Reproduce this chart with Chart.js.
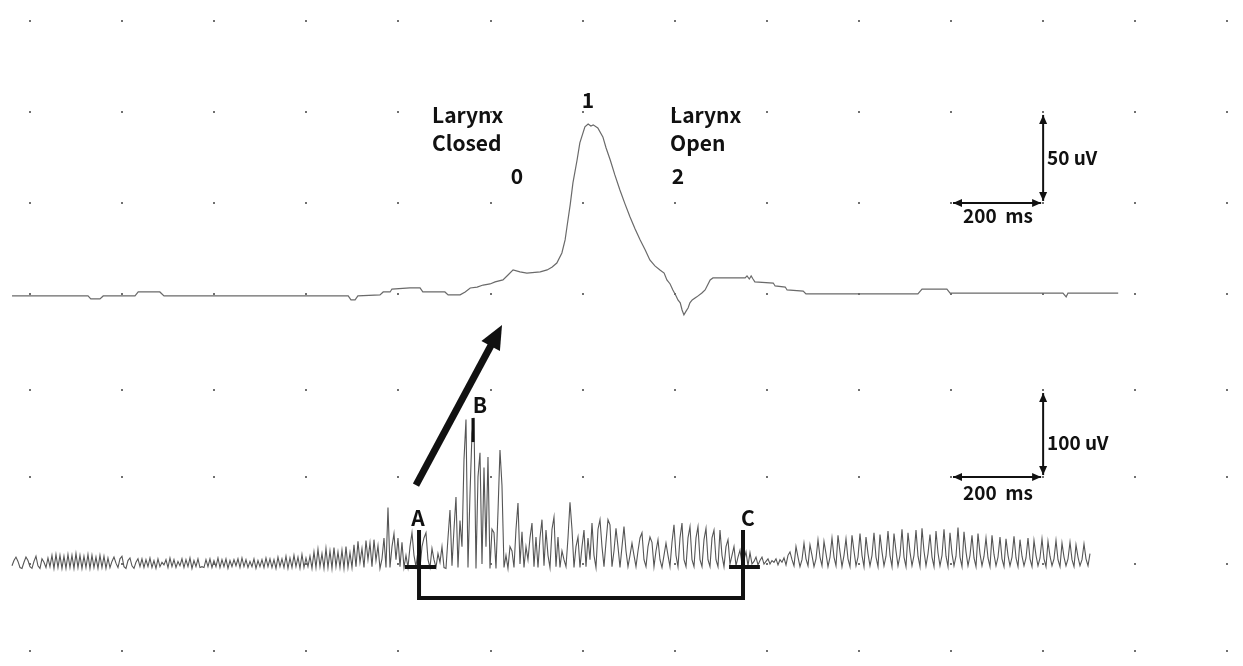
<!DOCTYPE html>
<html><head><meta charset="utf-8">
<script src="https://cdn.jsdelivr.net/npm/chart.js@4.4.1/dist/chart.umd.min.js"></script>
<style>html,body{margin:0;padding:0;background:#fff}#wrap{width:1243px;height:666px;position:relative}</style>
</head><body><div id="wrap"><canvas id="c"></canvas></div>
<script>
// ---- Upper trace (larynx movement sensor): time in ms, amplitude in uV ----
const topTimes = [-39,126,132,152,159,228,235,282,291,691,697,706,712,760,767,782,786,825,847,853,901,908,934,945,956,971,984,999,1010,1027,1038,1049,1064,1079,1108,1123,1134,1144,1155,1162,1166,1173,1179,1188,1194,1205,1212,1218,1223,1233,1244,1251,1260,1270,1281,1292,1303,1314,1325,1336,1346,1357,1368,1377,1383,1390,1396,1403,1407,1412,1416,1420,1425,1429,1433,1438,1448,1459,1466,1477,1483,1553,1557,1562,1566,1570,1574,1614,1618,1640,1644,1679,1685,1928,1937,1991,1998,2243,2250,2254,2363];
const topValues = [-1.1,-1.1,-2.7,-2.7,-1.1,-1.1,1.1,1.1,-1.1,-1.1,-3.3,-3.3,-1.1,-0.5,1.1,1.1,2.7,3.3,3.3,1.1,1.1,-0.5,-0.5,1.1,3.3,3.8,4.9,5.5,6.6,7.7,10.4,13.2,12.1,11.5,12.1,13.2,14.8,17.0,22.5,29.7,36.8,48.9,61.0,73.6,83.0,91.8,93.4,92.3,92.9,91.2,86.3,80.2,73.6,65.4,57.1,49.5,42.3,35.7,29.7,24.2,18.7,15.4,13.2,11.5,7.7,5.5,2.2,-1.1,-3.3,-4.9,-8.8,-11.5,-9.3,-7.7,-4.9,-3.3,-1.6,0.5,2.2,7.7,8.8,8.8,9.9,8.2,9.9,8.2,6.6,6.0,4.4,3.8,2.2,1.6,0,0,2.7,2.7,0.5,0.5,-1.6,0.5,0.5];

// ---- Lower trace (submental EMG), uniformly sampled: uV ----
const emgStartMs = -39.1;
const emgStepMs = 4.343;
const emgPart1 = [-2,4,8,3,-4,-5,2,8,4,-3,-5,3,9,-2,-5,6,2,-4,7,-3];
const emgPart2 = [10,-5,11,-4,10,-5,9,-5,11,-4,10,-5,12,-4,10,-5,9,-4,11,-5,10,-4,8,-5,10,-4,9,-5,7,-4];
const emgPart3 = [3,8,1,-4,6,9,-3,-5,4,7,-2,-5,2,6,-3];
const emgPart4 = [6,-4,5,-3,7,-4,4,-5,6,-3,2,-1,5,-4,7,-3,5,-4,3,-2,6,-4,5,-3,7,-5,4,-3,6,-4,-3,-4,5,-3,6,-4,4,-3,7,-4,5,-3,6,-5,4,-3,5,-2,6,-4,7,-3,5,-4,3,-3,6,-5,4,-3,5,-4,7,-3,6,-4,5,-5,8,-3,6,-4,9,-5,7,-4,10,-3,8,-5,11,-4,7,-3,9];
const emgPart5 = [-5,14,-4,17,-3,12,-5,18,-4,15,-5,19,-3,14,-4,16,-5,20,-4,13];
const emgPart6 = [-4,22,-3,26,2,18,-4,27,5,24,-3,28,4,21,-5,6,30,-4];
const emgPart7 = [65,-4,20,35,5,30,-3,25,-4];
const emgPart8 = [10,-4,20,36,10,-3,15,-4,20,30,36,5,-4,18,5,-4,12,2,20,-4,-5,30,62,-2,40,77,-4,50,20,120,166,-4,80,150,168,-5,100,128,0,111,20,123,-5,40,36,-5,60,131,90,-4,10,-5,20,15,-4,40,70,0,37,-4,20,5,30,47,-3,31,-4,30,51,-2,39,10,-4,40,54,-3,31,-4,15,5,-3,30,71,40,-4,20,31,-4,20,39,-3,30,5,47,10,-4,40];
const emgPart9 = [51,20,-3,25,51,45,-3,15,41,20,-4,20,43,15,-3,10,24,10,-3,15,30,36,5,-3,20,31,25,-3,15,28,5,-4,10,24,10,-3,25,45,10,-3,30,47,5,-3,30,43,5,-3,30,43,5,-3,28,41,5,-3,30,39,5,-3,39,10,-3,20,28,0,10,20,-2,8,16,0,5,14,-2,13,0,3,8,-1,4,8,0,3,6,0,4,2,6,-1,5,2,7,-1,10];
const emgPart10 = [14,5,-2,20,8,-3,5,24,6,-2,22,10,-3,6,28,8,-2,26,12,-3,8,30,8,-2,33,14,-3,10,29,6,-3,33,15,-2,8,35,10,-3,31,12,-2,10,36,8,-3,34,14,-2,9,38,10,-3,35,15,-2,10,40,8,-3,36,14,-2,10,39,9,-3,41,15,-2,12,34,8,-3,38,13,-2,10,40,9,-3,36,12,-2,9,42,8,-3,37,14,-2,10,33,7,-3,35,12,-2,9,30,7,-3,33,11,-2,8,31,6,-3,29,10,-2,8,32,7,-3,28,9,-2,7,30,6,-3,27,10,-2,7,29,6,-3,26,9,-2,6,27,5,-3,24,8,-2,6,25,5,-3,22,8,-2,5,23,6,-2,12];

// ---- Grid (dots every 200 ms; 50 uV upper / 100 uV lower) ----
const gridTimesMs = [0,200,400,600,800,1000,1200,1400,1600,1800,2000,2200,2400,2600];
const topGridUv = [0,50,100,150];
const bottomGridUv = [-100,0,100,200];

const emgValues = [].concat(emgPart1,emgPart2,emgPart3,emgPart4,emgPart5,emgPart6,emgPart7,emgPart8,emgPart9,emgPart10);
const topData = topTimes.map((t,i)=>({x:t,y:topValues[i]}));
const emgData = emgValues.map((v,i)=>({x:emgStartMs+i*emgStepMs,y:v}));

const FONT = '"Noto Sans CJK KR","Noto Sans",sans-serif';

function head(ctx,x1,y1,x2,y2,len,w){
  const a=Math.atan2(y2-y1,x2-x1), c=Math.cos(a), s=Math.sin(a);
  ctx.beginPath();
  ctx.moveTo(x2,y2);
  ctx.lineTo(x2-len*c+w/2*s, y2-len*s-w/2*c);
  ctx.lineTo(x2-len*c-w/2*s, y2-len*s+w/2*c);
  ctx.closePath(); ctx.fill();
}
function dblArrow(ctx,x1,y1,x2,y2){
  ctx.lineWidth=2;
  ctx.beginPath(); ctx.moveTo(x1,y1); ctx.lineTo(x2,y2); ctx.stroke();
  head(ctx,x2,y2,x1,y1,9,8);
  head(ctx,x1,y1,x2,y2,9,8);
}

const overlay = {
  id:'overlay',
  beforeDatasetsDraw(chart){
    const {ctx,scales}=chart; const xs=scales.x;
    ctx.save(); ctx.fillStyle='#707070';
    gridTimesMs.forEach(t=>{
      const px=Math.round(xs.getPixelForValue(t));
      topGridUv.forEach(v=>{const py=Math.round(scales.yTop.getPixelForValue(v)); ctx.fillRect(px-1,py-1,2,2);});
      bottomGridUv.forEach(v=>{const py=Math.round(scales.yBot.getPixelForValue(v)); ctx.fillRect(px-1,py-1,2,2);});
    });
    ctx.restore();
  },
  afterDatasetsDraw(chart){
    const {ctx,scales}=chart; const xs=scales.x;
    const P=(t,v,ax)=>({x:xs.getPixelForValue(t),y:scales[ax].getPixelForValue(v)});
    ctx.save();
    ctx.fillStyle='#111'; ctx.strokeStyle='#111';
    ctx.font='bold 21px '+FONT; ctx.textBaseline='middle';
    const txt=(s,t,v,ax,al)=>{const p=P(t,v,ax); ctx.textAlign=al; ctx.fillText(s,p.x,p.y);};
    txt('Larynx',873,98.4,'yTop','left');
    txt('Closed',873,83,'yTop','left');
    txt('Larynx',1389.8,98.4,'yTop','left');
    txt('Open',1389.8,83,'yTop','left');
    txt('0',1057.6,64.8,'yTop','center');
    txt('1',1211.8,106.6,'yTop','center');
    txt('2',1407.2,64.8,'yTop','center');
    txt('A',842.6,52.9,'yBot','center');
    txt('B',977,182.8,'yBot','center');
    txt('C',1559,52.9,'yBot','center');
    ctx.font='bold 19px '+FONT;
    txt('50 uV',2208.5,74.7,'yTop','left');
    txt('200  ms',2102,42.9,'yTop','center');
    txt('100 uV',2208.5,139,'yBot','left');
    txt('200  ms',2102,81.6,'yBot','center');
    // scale bars
    let a=P(2200,100,'yTop'), b=P(2200,50,'yTop'), c=P(2000,50,'yTop');
    dblArrow(ctx,a.x,a.y+3,b.x,b.y-2); dblArrow(ctx,c.x+2,c.y,b.x-2,b.y);
    a=P(2200,200,'yBot'); b=P(2200,100,'yBot'); c=P(2000,100,'yBot');
    dblArrow(ctx,a.x,a.y+3,b.x,b.y-2); dblArrow(ctx,c.x+2,c.y,b.x-2,b.y);
    // big arrow from A region to the upper trace
    const s=P(838.2,90.8,'yBot'), e=P(1025,-17,'yTop');
    const ang=Math.atan2(e.y-s.y,e.x-s.x);
    ctx.lineWidth=7; ctx.lineCap='butt';
    ctx.beginPath(); ctx.moveTo(s.x,s.y); ctx.lineTo(e.x-18*Math.cos(ang),e.y-18*Math.sin(ang)); ctx.stroke();
    head(ctx,s.x,s.y,e.x,e.y,24,21);
    // B marker
    const m1=P(962,167.8,'yBot'), m2=P(962,140.2,'yBot');
    ctx.lineWidth=3; ctx.beginPath(); ctx.moveTo(m1.x,m1.y); ctx.lineTo(m2.x,m2.y); ctx.stroke();
    // A-C bracket
    ctx.lineWidth=4; ctx.lineJoin='miter';
    const a1=P(844.8,39,'yBot'), a2=P(844.8,-39,'yBot'), c2=P(1548.3,-39,'yBot'), c1=P(1548.3,39,'yBot');
    ctx.beginPath(); ctx.moveTo(a1.x,a1.y); ctx.lineTo(a2.x,a2.y); ctx.lineTo(c2.x,c2.y); ctx.lineTo(c1.x,c1.y); ctx.stroke();
    const ta1=P(814,-3.4,'yBot'), ta2=P(881.7,-3.4,'yBot'), tc1=P(1518,-3.4,'yBot'), tc2=P(1585,-3.4,'yBot');
    ctx.beginPath(); ctx.moveTo(ta1.x,ta1.y); ctx.lineTo(ta2.x,ta2.y); ctx.moveTo(tc1.x,tc1.y); ctx.lineTo(tc2.x,tc2.y); ctx.stroke();
    ctx.restore();
  }
};

new Chart(document.getElementById('c'),{
  type:'line',
  data:{datasets:[
    {label:'Larynx',data:topData,xAxisID:'x',yAxisID:'yTop',borderColor:'#6a6a6a',borderWidth:1.2,pointRadius:0,fill:false,tension:0},
    {label:'EMG',data:emgData,xAxisID:'x',yAxisID:'yBot',borderColor:'#555',borderWidth:1.1,pointRadius:0,fill:false,tension:0}
  ]},
  options:{
    responsive:true,maintainAspectRatio:false,animation:false,
    layout:{padding:0},
    plugins:{legend:{display:false},tooltip:{enabled:false},title:{display:false}},
    scales:{
      x:{type:'linear',display:false,min:-65.1,max:2634},
      yTop:{type:'linear',display:false,min:-204.4,max:161.5},
      yBot:{type:'linear',display:false,min:-117.2,max:648.3}
    }
  },
  plugins:[overlay]
});
</script></body></html>
